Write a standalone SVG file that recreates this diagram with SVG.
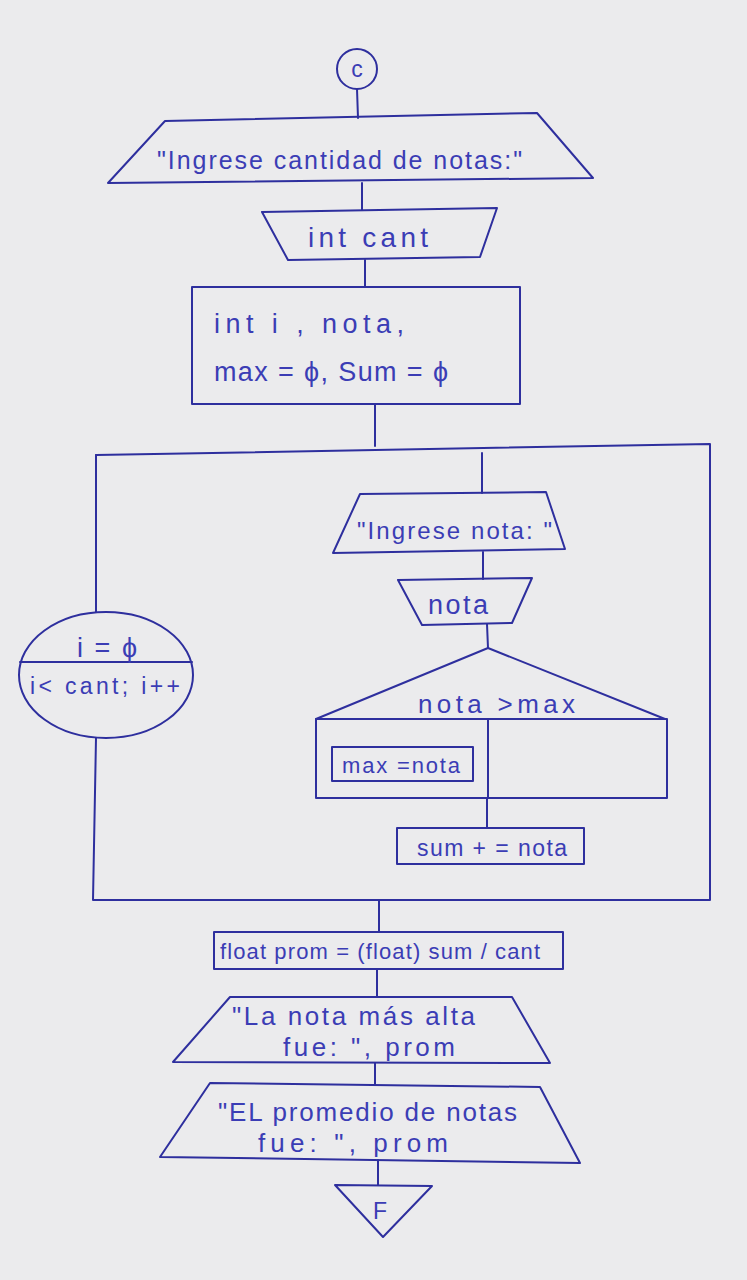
<svg xmlns="http://www.w3.org/2000/svg" width="747" height="1280" viewBox="0 0 747 1280">
<style>
.s{fill:none;stroke:#2e2f9e;stroke-width:2;stroke-linejoin:round;stroke-linecap:round}
.t{font-family:"Liberation Sans","DejaVu Sans",sans-serif;fill:#3b3db5}
.c{text-anchor:middle}
</style>
<rect width="747" height="1280" fill="#ebebed"/>
<g id="connectors" class="s">
<line x1="357" y1="89" x2="358" y2="118"/>
<line x1="362" y1="183" x2="362" y2="210"/>
<line x1="365" y1="260" x2="365" y2="287"/>
<line x1="375" y1="404" x2="375" y2="446"/>
<path d="M96 455 L710 444 L710 900 L93 900 L96 738"/>
<line x1="96" y1="455" x2="96" y2="612"/>
<line x1="482" y1="453" x2="482" y2="493"/>
<line x1="483" y1="552" x2="483" y2="579"/>
<line x1="487" y1="624" x2="488" y2="648"/>
<line x1="487" y1="798" x2="487" y2="828"/>
<line x1="379" y1="900" x2="379" y2="932"/>
<line x1="377" y1="969" x2="377" y2="997"/>
<line x1="375" y1="1063" x2="375" y2="1084"/>
<line x1="378" y1="1160" x2="378" y2="1185"/>
</g>
<g id="start">
<circle class="s" cx="357" cy="69" r="20"/>
<text class="t c" x="357" y="77" font-size="23">c</text>
</g>
<g id="out1">
<path class="s" d="M165 121 L537 113 L593 178 L108 183 Z"/>
<text class="t" x="157" y="169" font-size="25" textLength="365" lengthAdjust="spacing">"Ingrese cantidad de notas:"</text>
</g>
<g id="in1">
<path class="s" d="M262 212 L497 208 L480 257 L288 260 Z"/>
<text class="t" x="308" y="247" font-size="28" textLength="120" lengthAdjust="spacing">int cant</text>
</g>
<g id="decl">
<rect class="s" x="192" y="287" width="328" height="117"/>
<text class="t" x="214" y="333" font-size="27" textLength="190" lengthAdjust="spacing">int i , nota,</text>
<text class="t" x="214" y="381" font-size="27" textLength="234" lengthAdjust="spacing">max = ϕ, Sum = ϕ</text>
</g>
<g id="loop">
<ellipse class="s" cx="106" cy="675" rx="87" ry="63"/>
<line class="s" x1="20" y1="662" x2="192" y2="662"/>
<text class="t" x="77" y="657" font-size="27" textLength="60" lengthAdjust="spacing">i = ϕ</text>
<text class="t" x="30" y="694" font-size="23" textLength="150" lengthAdjust="spacing">i&lt; cant; i++</text>
</g>
<g id="out2">
<path class="s" d="M360 494 L546 492 L565 549 L333 553 Z"/>
<text class="t" x="357" y="539" font-size="24" textLength="195" lengthAdjust="spacing">"Ingrese nota: "</text>
</g>
<g id="in2">
<path class="s" d="M398 580 L532 578 L512 623 L422 625 Z"/>
<text class="t" x="428" y="614" font-size="27" textLength="60" lengthAdjust="spacing">nota</text>
</g>
<g id="decision">
<path class="s" d="M316 719 L488 648 L665 719 Z"/>
<text class="t" x="418" y="713" font-size="26" textLength="157" lengthAdjust="spacing">nota &gt;max</text>
<rect class="s" x="316" y="719" width="351" height="79"/>
<line class="s" x1="488" y1="719" x2="488" y2="798"/>
</g>
<g id="assign">
<rect class="s" x="332" y="747" width="141" height="34"/>
<text class="t" x="342" y="773" font-size="22" textLength="118" lengthAdjust="spacing">max =nota</text>
</g>
<g id="sum">
<rect class="s" x="397" y="828" width="187" height="36"/>
<text class="t" x="417" y="856" font-size="23" textLength="150" lengthAdjust="spacing">sum + = nota</text>
</g>
<g id="prom">
<rect class="s" x="214" y="932" width="349" height="37"/>
<text class="t" x="220" y="959" font-size="22" textLength="320" lengthAdjust="spacing">float prom = (float) sum / cant</text>
</g>
<g id="out3">
<path class="s" d="M230 997 L512 997 L550 1063 L173 1062 Z"/>
<text class="t" x="232" y="1025" font-size="26" textLength="243" lengthAdjust="spacing">"La nota más alta</text>
<text class="t" x="283" y="1056" font-size="26" textLength="172" lengthAdjust="spacing">fue: ", prom</text>
</g>
<g id="out4">
<path class="s" d="M210 1083 L540 1087 L580 1163 L160 1157 Z"/>
<text class="t" x="218" y="1121" font-size="26" textLength="299" lengthAdjust="spacing">"EL  promedio de notas</text>
<text class="t" x="258" y="1152" font-size="26" textLength="190" lengthAdjust="spacing">fue: ", prom</text>
</g>
<g id="end">
<path class="s" d="M335 1185 L432 1186 L383 1237 Z"/>
<text class="t c" x="380" y="1219" font-size="23">F</text>
</g>
</svg>
